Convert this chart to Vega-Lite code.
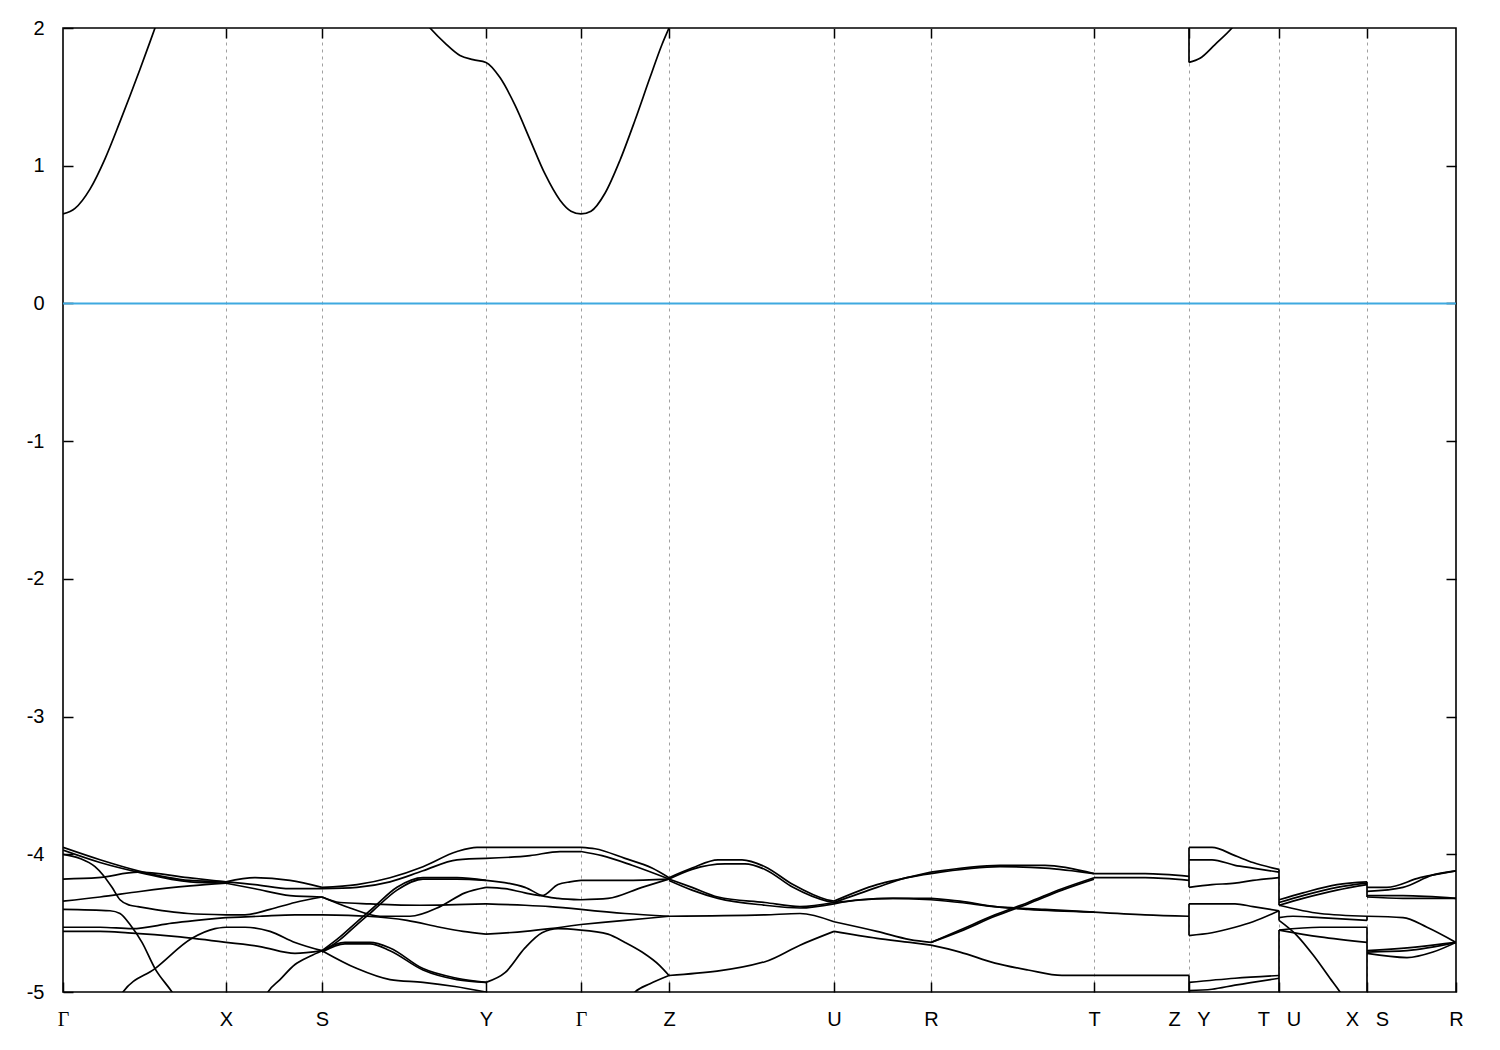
{
"$schema":"https://vega.github.io/schema/vega-lite/v6.json",
"width":1393,"height":964,
"autosize":{"type":"none"},
"padding":{"left":63,"top":28,"right":44,"bottom":58},
"background":"white",
"config":{"view":{"stroke":"black","strokeWidth":1.6},"font":"Liberation Sans"},
"datasets":{
"zero":[{"e":0}],
"jumps":[
{"s":"j1","k":1126,"e":-3.95},{"s":"j1","k":1126,"e":-4.24},
{"s":"j2","k":1126,"e":-4.36},{"s":"j2","k":1126,"e":-4.59},
{"s":"j3","k":1126,"e":-4.88},{"s":"j3","k":1126,"e":-5.05},
{"s":"j4","k":1126,"e":1.75},{"s":"j4","k":1126,"e":2.2},
{"s":"j5","k":1216,"e":-4.11},{"s":"j5","k":1216,"e":-4.37},
{"s":"j6","k":1216,"e":-4.41},{"s":"j6","k":1216,"e":-4.48},
{"s":"j7","k":1216,"e":-4.55},{"s":"j7","k":1216,"e":-5.05},
{"s":"j8","k":1304,"e":-4.20},{"s":"j8","k":1304,"e":-4.31},
{"s":"j9","k":1304,"e":-4.45},{"s":"j9","k":1304,"e":-4.48},
{"s":"j10","k":1304,"e":-4.53},{"s":"j10","k":1304,"e":-5.05}
],
"bands":[
{"s":"cb1","k":0,"e":0.65},{"s":"cb1","k":12,"e":0.69},{"s":"cb1","k":27,"e":0.83},{"s":"cb1","k":42,"e":1.05},{"s":"cb1","k":57,"e":1.32},{"s":"cb1","k":77,"e":1.70},{"s":"cb1","k":92,"e":2.0},{"s":"cb1","k":99,"e":2.14},
{"s":"cb2","k":352,"e":2.13},{"s":"cb2","k":367,"e":2.0},{"s":"cb2","k":382,"e":1.89},{"s":"cb2","k":397,"e":1.80},{"s":"cb2","k":410,"e":1.77},{"s":"cb2","k":423,"e":1.75},{"s":"cb2","k":437,"e":1.64},{"s":"cb2","k":452,"e":1.44},{"s":"cb2","k":467,"e":1.19},{"s":"cb2","k":482,"e":0.94},{"s":"cb2","k":497,"e":0.75},{"s":"cb2","k":508,"e":0.67},{"s":"cb2","k":518,"e":0.65},{"s":"cb2","k":528,"e":0.67},{"s":"cb2","k":542,"e":0.80},{"s":"cb2","k":557,"e":1.04},{"s":"cb2","k":572,"e":1.33},{"s":"cb2","k":587,"e":1.64},{"s":"cb2","k":599,"e":1.88},{"s":"cb2","k":606,"e":2.0},{"s":"cb2","k":614,"e":2.14},
{"s":"cb3","k":1126,"e":1.75},{"s":"cb3","k":1137,"e":1.78},{"s":"cb3","k":1152,"e":1.88},{"s":"cb3","k":1169,"e":2.0},{"s":"cb3","k":1177,"e":2.07},
{"s":"s1a","k":0,"e":-3.95},{"s":"s1a","k":37,"e":-4.04},{"s":"s1a","k":75,"e":-4.12},{"s":"s1a","k":127,"e":-4.19},{"s":"s1a","k":163,"e":-4.20},
{"s":"s1a2","k":0,"e":-3.97},{"s":"s1a2","k":37,"e":-4.06},{"s":"s1a2","k":75,"e":-4.13},{"s":"s1a2","k":127,"e":-4.20},{"s":"s1a2","k":163,"e":-4.21},
{"s":"s1b","k":0,"e":-4.18},{"s":"s1b","k":35,"e":-4.17},{"s":"s1b","k":75,"e":-4.13},{"s":"s1b","k":125,"e":-4.17},{"s":"s1b","k":163,"e":-4.20},
{"s":"s1c","k":0,"e":-4.00},{"s":"s1c","k":17,"e":-4.03},{"s":"s1c","k":32,"e":-4.09},{"s":"s1c","k":40,"e":-4.15},{"s":"s1c","k":49,"e":-4.24},{"s":"s1c","k":57,"e":-4.33},{"s":"s1c","k":67,"e":-4.37},{"s":"s1c","k":75,"e":-4.38},{"s":"s1c","k":125,"e":-4.43},{"s":"s1c","k":163,"e":-4.44},
{"s":"s1d","k":0,"e":-4.34},{"s":"s1d","k":37,"e":-4.31},{"s":"s1d","k":77,"e":-4.27},{"s":"s1d","k":127,"e":-4.23},{"s":"s1d","k":163,"e":-4.21},
{"s":"s1e","k":0,"e":-4.40},{"s":"s1e","k":47,"e":-4.41},{"s":"s1e","k":57,"e":-4.43},{"s":"s1e","k":67,"e":-4.51},{"s":"s1e","k":79,"e":-4.64},{"s":"s1e","k":92,"e":-4.83},{"s":"s1e","k":109,"e":-5.00},{"s":"s1e","k":117,"e":-5.09},
{"s":"s1f","k":0,"e":-4.53},{"s":"s1f","k":37,"e":-4.53},{"s":"s1f","k":69,"e":-4.54},{"s":"s1f","k":109,"e":-4.50},{"s":"s1f","k":163,"e":-4.46},
{"s":"s1g","k":0,"e":-4.56},{"s":"s1g","k":37,"e":-4.56},{"s":"s1g","k":65,"e":-4.57},{"s":"s1g","k":117,"e":-4.60},{"s":"s1g","k":163,"e":-4.64},
{"s":"s1h","k":52,"e":-5.09},{"s":"s1h","k":60,"e":-5.00},{"s":"s1h","k":92,"e":-4.83},{"s":"s1h","k":129,"e":-4.61},{"s":"s1h","k":152,"e":-4.54},{"s":"s1h","k":163,"e":-4.53},
{"s":"s2a","k":163,"e":-4.20},{"s":"s2a","k":192,"e":-4.17},{"s":"s2a","k":227,"e":-4.19},{"s":"s2a","k":259,"e":-4.24},
{"s":"s2b","k":163,"e":-4.20},{"s":"s2b","k":192,"e":-4.22},{"s":"s2b","k":227,"e":-4.25},{"s":"s2b","k":259,"e":-4.25},
{"s":"s2c","k":163,"e":-4.21},{"s":"s2c","k":192,"e":-4.25},{"s":"s2c","k":227,"e":-4.30},{"s":"s2c","k":259,"e":-4.31},
{"s":"s2d","k":163,"e":-4.44},{"s":"s2d","k":182,"e":-4.44},{"s":"s2d","k":207,"e":-4.40},{"s":"s2d","k":232,"e":-4.35},{"s":"s2d","k":259,"e":-4.31},
{"s":"s2e","k":163,"e":-4.46},{"s":"s2e","k":197,"e":-4.45},{"s":"s2e","k":232,"e":-4.44},{"s":"s2e","k":259,"e":-4.44},
{"s":"s2f","k":163,"e":-4.53},{"s":"s2f","k":182,"e":-4.53},{"s":"s2f","k":207,"e":-4.56},{"s":"s2f","k":232,"e":-4.64},{"s":"s2f","k":259,"e":-4.70},
{"s":"s2g","k":163,"e":-4.64},{"s":"s2g","k":197,"e":-4.67},{"s":"s2g","k":232,"e":-4.72},{"s":"s2g","k":259,"e":-4.70},
{"s":"s2h","k":199,"e":-5.09},{"s":"s2h","k":205,"e":-5.00},{"s":"s2h","k":217,"e":-4.91},{"s":"s2h","k":232,"e":-4.80},{"s":"s2h","k":247,"e":-4.74},{"s":"s2h","k":259,"e":-4.70},
{"s":"s3a","k":259,"e":-4.24},{"s":"s3a","k":294,"e":-4.22},{"s":"s3a","k":327,"e":-4.17},{"s":"s3a","k":360,"e":-4.09},{"s":"s3a","k":394,"e":-3.98},{"s":"s3a","k":414,"e":-3.95},{"s":"s3a","k":423,"e":-3.95},
{"s":"s3b","k":259,"e":-4.25},{"s":"s3b","k":294,"e":-4.24},{"s":"s3b","k":327,"e":-4.20},{"s":"s3b","k":360,"e":-4.12},{"s":"s3b","k":394,"e":-4.04},{"s":"s3b","k":423,"e":-4.03},
{"s":"s3c","k":259,"e":-4.70},{"s":"s3c","k":277,"e":-4.60},{"s":"s3c","k":294,"e":-4.49},{"s":"s3c","k":310,"e":-4.39},{"s":"s3c","k":334,"e":-4.24},{"s":"s3c","k":360,"e":-4.17},{"s":"s3c","k":394,"e":-4.17},{"s":"s3c","k":423,"e":-4.19},
{"s":"s3c2","k":259,"e":-4.71},{"s":"s3c2","k":277,"e":-4.62},{"s":"s3c2","k":294,"e":-4.51},{"s":"s3c2","k":310,"e":-4.41},{"s":"s3c2","k":334,"e":-4.26},{"s":"s3c2","k":360,"e":-4.18},{"s":"s3c2","k":394,"e":-4.18},{"s":"s3c2","k":423,"e":-4.19},
{"s":"s3d","k":259,"e":-4.31},{"s":"s3d","k":287,"e":-4.39},{"s":"s3d","k":317,"e":-4.45},{"s":"s3d","k":347,"e":-4.45},{"s":"s3d","k":377,"e":-4.38},{"s":"s3d","k":402,"e":-4.28},{"s":"s3d","k":423,"e":-4.24},
{"s":"s3x","k":259,"e":-4.31},{"s":"s3x","k":277,"e":-4.35},{"s":"s3x","k":307,"e":-4.36},{"s":"s3x","k":357,"e":-4.37},{"s":"s3x","k":423,"e":-4.36},
{"s":"s3e","k":259,"e":-4.44},{"s":"s3e","k":304,"e":-4.45},{"s":"s3e","k":344,"e":-4.48},{"s":"s3e","k":377,"e":-4.53},{"s":"s3e","k":400,"e":-4.56},{"s":"s3e","k":423,"e":-4.58},
{"s":"s3f","k":259,"e":-4.70},{"s":"s3f","k":282,"e":-4.64},{"s":"s3f","k":307,"e":-4.64},{"s":"s3f","k":327,"e":-4.68},{"s":"s3f","k":360,"e":-4.83},{"s":"s3f","k":394,"e":-4.90},{"s":"s3f","k":423,"e":-4.93},
{"s":"s3f2","k":259,"e":-4.71},{"s":"s3f2","k":282,"e":-4.65},{"s":"s3f2","k":307,"e":-4.65},{"s":"s3f2","k":327,"e":-4.70},{"s":"s3f2","k":360,"e":-4.84},{"s":"s3f2","k":394,"e":-4.91},{"s":"s3f2","k":423,"e":-4.93},
{"s":"s3g","k":259,"e":-4.70},{"s":"s3g","k":294,"e":-4.83},{"s":"s3g","k":327,"e":-4.91},{"s":"s3g","k":360,"e":-4.93},{"s":"s3g","k":392,"e":-4.96},{"s":"s3g","k":423,"e":-5.00},
{"s":"y1","k":423,"e":-3.95},{"s":"y1","k":467,"e":-3.95},{"s":"y1","k":518,"e":-3.95},
{"s":"y2","k":423,"e":-4.03},{"s":"y2","k":467,"e":-4.01},{"s":"y2","k":497,"e":-3.98},{"s":"y2","k":518,"e":-3.98},
{"s":"y3","k":423,"e":-4.19},{"s":"y3","k":462,"e":-4.24},{"s":"y3","k":479,"e":-4.30},{"s":"y3","k":495,"e":-4.32},{"s":"y3","k":518,"e":-4.33},
{"s":"y4","k":423,"e":-4.24},{"s":"y4","k":442,"e":-4.25},{"s":"y4","k":462,"e":-4.28},{"s":"y4","k":479,"e":-4.30},{"s":"y4","k":495,"e":-4.22},{"s":"y4","k":507,"e":-4.20},{"s":"y4","k":518,"e":-4.19},
{"s":"y5","k":423,"e":-4.36},{"s":"y5","k":462,"e":-4.37},{"s":"y5","k":487,"e":-4.38},{"s":"y5","k":518,"e":-4.40},
{"s":"y6","k":423,"e":-4.58},{"s":"y6","k":462,"e":-4.56},{"s":"y6","k":487,"e":-4.54},{"s":"y6","k":518,"e":-4.51},
{"s":"y7","k":423,"e":-4.93},{"s":"y7","k":442,"e":-4.86},{"s":"y7","k":462,"e":-4.68},{"s":"y7","k":479,"e":-4.57},{"s":"y7","k":495,"e":-4.54},{"s":"y7","k":518,"e":-4.55},
{"s":"y8","k":423,"e":-5.00},{"s":"y8","k":437,"e":-5.06},{"s":"y8","k":447,"e":-5.13},
{"s":"g1","k":518,"e":-3.95},{"s":"g1","k":532,"e":-3.96},{"s":"g1","k":562,"e":-4.03},{"s":"g1","k":589,"e":-4.10},{"s":"g1","k":606,"e":-4.17},
{"s":"g2","k":518,"e":-3.98},{"s":"g2","k":539,"e":-4.01},{"s":"g2","k":569,"e":-4.08},{"s":"g2","k":606,"e":-4.18},
{"s":"g3","k":518,"e":-4.19},{"s":"g3","k":562,"e":-4.19},{"s":"g3","k":606,"e":-4.18},
{"s":"g4","k":518,"e":-4.33},{"s":"g4","k":545,"e":-4.32},{"s":"g4","k":579,"e":-4.24},{"s":"g4","k":606,"e":-4.18},
{"s":"g5","k":518,"e":-4.40},{"s":"g5","k":562,"e":-4.43},{"s":"g5","k":606,"e":-4.45},
{"s":"g6","k":518,"e":-4.51},{"s":"g6","k":562,"e":-4.48},{"s":"g6","k":606,"e":-4.45},
{"s":"g7","k":518,"e":-4.55},{"s":"g7","k":545,"e":-4.58},{"s":"g7","k":562,"e":-4.64},{"s":"g7","k":579,"e":-4.71},{"s":"g7","k":597,"e":-4.81},{"s":"g7","k":606,"e":-4.88},
{"s":"g8","k":562,"e":-5.09},{"s":"g8","k":572,"e":-5.00},{"s":"g8","k":587,"e":-4.94},{"s":"g8","k":606,"e":-4.88},
{"s":"z1","k":606,"e":-4.17},{"s":"z1","k":629,"e":-4.10},{"s":"z1","k":655,"e":-4.04},{"s":"z1","k":679,"e":-4.04},{"s":"z1","k":702,"e":-4.09},{"s":"z1","k":730,"e":-4.22},{"s":"z1","k":764,"e":-4.33},{"s":"z1","k":771,"e":-4.34},
{"s":"z2","k":606,"e":-4.18},{"s":"z2","k":629,"e":-4.11},{"s":"z2","k":662,"e":-4.07},{"s":"z2","k":682,"e":-4.07},{"s":"z2","k":702,"e":-4.11},{"s":"z2","k":730,"e":-4.24},{"s":"z2","k":764,"e":-4.34},{"s":"z2","k":771,"e":-4.35},
{"s":"z3","k":606,"e":-4.18},{"s":"z3","k":629,"e":-4.24},{"s":"z3","k":655,"e":-4.31},{"s":"z3","k":702,"e":-4.35},{"s":"z3","k":737,"e":-4.38},{"s":"z3","k":771,"e":-4.35},
{"s":"z4","k":606,"e":-4.19},{"s":"z4","k":629,"e":-4.26},{"s":"z4","k":655,"e":-4.32},{"s":"z4","k":702,"e":-4.37},{"s":"z4","k":737,"e":-4.39},{"s":"z4","k":771,"e":-4.36},
{"s":"z5","k":606,"e":-4.45},{"s":"z5","k":702,"e":-4.44},{"s":"z5","k":737,"e":-4.43},{"s":"z5","k":771,"e":-4.49},
{"s":"z6","k":606,"e":-4.88},{"s":"z6","k":702,"e":-4.78},{"s":"z6","k":737,"e":-4.66},{"s":"z6","k":771,"e":-4.56},
{"s":"u1","k":771,"e":-4.34},{"s":"u1","k":814,"e":-4.22},{"s":"u1","k":844,"e":-4.17},{"s":"u1","k":868,"e":-4.13},
{"s":"u2","k":771,"e":-4.35},{"s":"u2","k":814,"e":-4.24},{"s":"u2","k":844,"e":-4.17},{"s":"u2","k":868,"e":-4.14},
{"s":"u3","k":771,"e":-4.35},{"s":"u3","k":830,"e":-4.32},{"s":"u3","k":868,"e":-4.32},
{"s":"u4","k":771,"e":-4.36},{"s":"u4","k":797,"e":-4.33},{"s":"u4","k":830,"e":-4.32},{"s":"u4","k":868,"e":-4.33},
{"s":"u5","k":771,"e":-4.49},{"s":"u5","k":814,"e":-4.56},{"s":"u5","k":847,"e":-4.62},{"s":"u5","k":868,"e":-4.64},
{"s":"u6","k":771,"e":-4.56},{"s":"u6","k":814,"e":-4.61},{"s":"u6","k":847,"e":-4.64},{"s":"u6","k":868,"e":-4.66},
{"s":"r1","k":868,"e":-4.13},{"s":"r1","k":937,"e":-4.08},{"s":"r1","k":982,"e":-4.08},{"s":"r1","k":1031,"e":-4.14},
{"s":"r2","k":868,"e":-4.14},{"s":"r2","k":937,"e":-4.09},{"s":"r2","k":982,"e":-4.10},{"s":"r2","k":1031,"e":-4.14},
{"s":"r3","k":868,"e":-4.32},{"s":"r3","k":897,"e":-4.34},{"s":"r3","k":932,"e":-4.38},{"s":"r3","k":965,"e":-4.40},{"s":"r3","k":1031,"e":-4.42},
{"s":"r4","k":868,"e":-4.33},{"s":"r4","k":897,"e":-4.35},{"s":"r4","k":932,"e":-4.38},{"s":"r4","k":982,"e":-4.40},{"s":"r4","k":1031,"e":-4.42},
{"s":"r5","k":868,"e":-4.64},{"s":"r5","k":897,"e":-4.55},{"s":"r5","k":932,"e":-4.44},{"s":"r5","k":965,"e":-4.35},{"s":"r5","k":999,"e":-4.25},{"s":"r5","k":1031,"e":-4.17},
{"s":"r6","k":868,"e":-4.64},{"s":"r6","k":897,"e":-4.56},{"s":"r6","k":932,"e":-4.45},{"s":"r6","k":965,"e":-4.36},{"s":"r6","k":999,"e":-4.26},{"s":"r6","k":1031,"e":-4.18},
{"s":"r7","k":868,"e":-4.66},{"s":"r7","k":897,"e":-4.71},{"s":"r7","k":932,"e":-4.79},{"s":"r7","k":965,"e":-4.84},{"s":"r7","k":999,"e":-4.88},{"s":"r7","k":1031,"e":-4.88},
{"s":"t1","k":1031,"e":-4.14},{"s":"t1","k":1082,"e":-4.14},{"s":"t1","k":1126,"e":-4.16},
{"s":"t2","k":1031,"e":-4.17},{"s":"t2","k":1082,"e":-4.17},{"s":"t2","k":1126,"e":-4.19},
{"s":"t3","k":1031,"e":-4.42},{"s":"t3","k":1082,"e":-4.44},{"s":"t3","k":1126,"e":-4.45},
{"s":"t4","k":1031,"e":-4.88},{"s":"t4","k":1126,"e":-4.88},
{"s":"v1","k":1126,"e":-3.95},{"s":"v1","k":1149,"e":-3.95},{"s":"v1","k":1172,"e":-4.01},{"s":"v1","k":1190,"e":-4.06},{"s":"v1","k":1216,"e":-4.11},
{"s":"v2","k":1126,"e":-4.04},{"s":"v2","k":1149,"e":-4.04},{"s":"v2","k":1172,"e":-4.08},{"s":"v2","k":1190,"e":-4.10},{"s":"v2","k":1216,"e":-4.13},
{"s":"v3","k":1126,"e":-4.24},{"s":"v3","k":1149,"e":-4.22},{"s":"v3","k":1172,"e":-4.21},{"s":"v3","k":1190,"e":-4.19},{"s":"v3","k":1216,"e":-4.17},
{"s":"v4","k":1126,"e":-4.36},{"s":"v4","k":1172,"e":-4.36},{"s":"v4","k":1190,"e":-4.38},{"s":"v4","k":1216,"e":-4.41},
{"s":"v5","k":1126,"e":-4.59},{"s":"v5","k":1149,"e":-4.57},{"s":"v5","k":1172,"e":-4.53},{"s":"v5","k":1190,"e":-4.49},{"s":"v5","k":1216,"e":-4.41},
{"s":"v6","k":1126,"e":-4.93},{"s":"v6","k":1172,"e":-4.90},{"s":"v6","k":1216,"e":-4.88},
{"s":"v7","k":1126,"e":-4.99},{"s":"v7","k":1149,"e":-4.98},{"s":"v7","k":1172,"e":-4.95},{"s":"v7","k":1216,"e":-4.90},
{"s":"w1","k":1216,"e":-4.33},{"s":"w1","k":1240,"e":-4.28},{"s":"w1","k":1274,"e":-4.22},{"s":"w1","k":1304,"e":-4.20},
{"s":"w2","k":1216,"e":-4.35},{"s":"w2","k":1240,"e":-4.30},{"s":"w2","k":1274,"e":-4.24},{"s":"w2","k":1304,"e":-4.21},
{"s":"w3","k":1216,"e":-4.37},{"s":"w3","k":1240,"e":-4.32},{"s":"w3","k":1274,"e":-4.26},{"s":"w3","k":1304,"e":-4.22},
{"s":"w4","k":1216,"e":-4.37},{"s":"w4","k":1257,"e":-4.43},{"s":"w4","k":1304,"e":-4.45},
{"s":"w5","k":1216,"e":-4.46},{"s":"w5","k":1230,"e":-4.45},{"s":"w5","k":1257,"e":-4.46},{"s":"w5","k":1304,"e":-4.48},
{"s":"w6","k":1216,"e":-4.55},{"s":"w6","k":1257,"e":-4.53},{"s":"w6","k":1304,"e":-4.53},
{"s":"w7","k":1216,"e":-4.55},{"s":"w7","k":1257,"e":-4.60},{"s":"w7","k":1304,"e":-4.64},
{"s":"w8","k":1216,"e":-4.48},{"s":"w8","k":1234,"e":-4.59},{"s":"w8","k":1250,"e":-4.73},{"s":"w8","k":1267,"e":-4.90},{"s":"w8","k":1277,"e":-5.00},{"s":"w8","k":1282,"e":-5.06},
{"s":"x1","k":1304,"e":-4.24},{"s":"x1","k":1324,"e":-4.24},{"s":"x1","k":1357,"e":-4.17},{"s":"x1","k":1393,"e":-4.12},
{"s":"x2","k":1304,"e":-4.27},{"s":"x2","k":1340,"e":-4.24},{"s":"x2","k":1370,"e":-4.15},{"s":"x2","k":1393,"e":-4.12},
{"s":"x3","k":1304,"e":-4.30},{"s":"x3","k":1340,"e":-4.30},{"s":"x3","k":1393,"e":-4.32},
{"s":"x4","k":1304,"e":-4.31},{"s":"x4","k":1340,"e":-4.32},{"s":"x4","k":1393,"e":-4.32},
{"s":"x5","k":1304,"e":-4.45},{"s":"x5","k":1340,"e":-4.46},{"s":"x5","k":1364,"e":-4.53},{"s":"x5","k":1393,"e":-4.64},
{"s":"x6","k":1304,"e":-4.70},{"s":"x6","k":1357,"e":-4.67},{"s":"x6","k":1393,"e":-4.64},
{"s":"x7","k":1304,"e":-4.71},{"s":"x7","k":1344,"e":-4.70},{"s":"x7","k":1393,"e":-4.64},
{"s":"x8","k":1304,"e":-4.72},{"s":"x8","k":1344,"e":-4.75},{"s":"x8","k":1370,"e":-4.71},{"s":"x8","k":1393,"e":-4.64}
]
},
"resolve":{"axis":{"x":"independent","y":"independent"}},
"layer":[
{"data":{"name":"zero"},
 "mark":{"type":"rule","color":"#3fa9e0","strokeWidth":2},
 "encoding":{"y":{"field":"e","type":"quantitative","scale":{"domain":[-5,2],"nice":false,"zero":false},"axis":null}}},
{"data":{"name":"bands"},
 "mark":{"type":"line","interpolate":"monotone","color":"black","strokeWidth":1.7,"clip":true},
 "encoding":{
  "x":{"field":"k","type":"quantitative","scale":{"domain":[0,1393],"nice":false,"zero":false},
   "axis":{"orient":"bottom","title":null,"values":[0,163,259,423,518,606,771,868,1031,1126,1216,1304,1393],
    "labelExpr":"datum.value==0||datum.value==518?'Γ':datum.value==163?'X':datum.value==259?'S':datum.value==423?'Y':datum.value==606?'Z':datum.value==771?'U':datum.value==868?'R':datum.value==1031?'T':datum.value==1126?'Z\u00a0\u00a0\u00a0Y':datum.value==1216?'T\u00a0\u00a0\u00a0U':datum.value==1304?'X\u00a0\u00a0\u00a0S':'R'",
    "grid":true,"gridColor":"#a0a0a0","gridDash":[3,4],"gridWidth":1,
    "gridOpacity":{"condition":{"test":"datum.value==0||datum.value==1393","value":0},"value":1},
    "ticks":true,"tickSize":-10,"tickColor":"black","tickWidth":1.5,"domain":false,
    "labelFontSize":20,"labelColor":"black",
    "labelFont":{"condition":{"test":"datum.value==0||datum.value==518","value":"Liberation Serif"},"value":"Liberation Sans"},
    "labelPadding":27,"labelFlush":false,"labelOverlap":false,"labelBound":false}},
  "y":{"field":"e","type":"quantitative","scale":{"domain":[-5,2],"nice":false,"zero":false},
   "axis":{"orient":"left","title":null,"values":[-5,-4,-3,-2,-1,0,1,2],"labelExpr":"''+datum.value",
    "grid":false,"ticks":true,"tickSize":-10,"tickColor":"black","tickWidth":1.5,"domain":false,
    "labelFontSize":20,"labelColor":"black","labelPadding":29,"labelFont":"Liberation Sans"}},
  "detail":{"field":"s","type":"nominal"}}},
{"data":{"name":"jumps"},
 "mark":{"type":"line","color":"black","strokeWidth":1.7,"clip":true},
 "encoding":{
  "x":{"field":"k","type":"quantitative","scale":{"domain":[0,1393],"nice":false,"zero":false},
   "axis":{"orient":"top","title":null,"values":[163,259,423,518,606,771,868,1031,1126,1216,1304],"labels":false,"grid":false,"ticks":true,"tickSize":-10,"tickColor":"black","tickWidth":1.5,"domain":false}},
  "y":{"field":"e","type":"quantitative","scale":{"domain":[-5,2],"nice":false,"zero":false},
   "axis":{"orient":"right","title":null,"values":[-4,-3,-2,-1,0,1],"labels":false,"grid":false,"ticks":true,"tickSize":-10,"tickColor":"black","tickWidth":1.5,"domain":false}},
  "detail":{"field":"s","type":"nominal"}}}
]
}
